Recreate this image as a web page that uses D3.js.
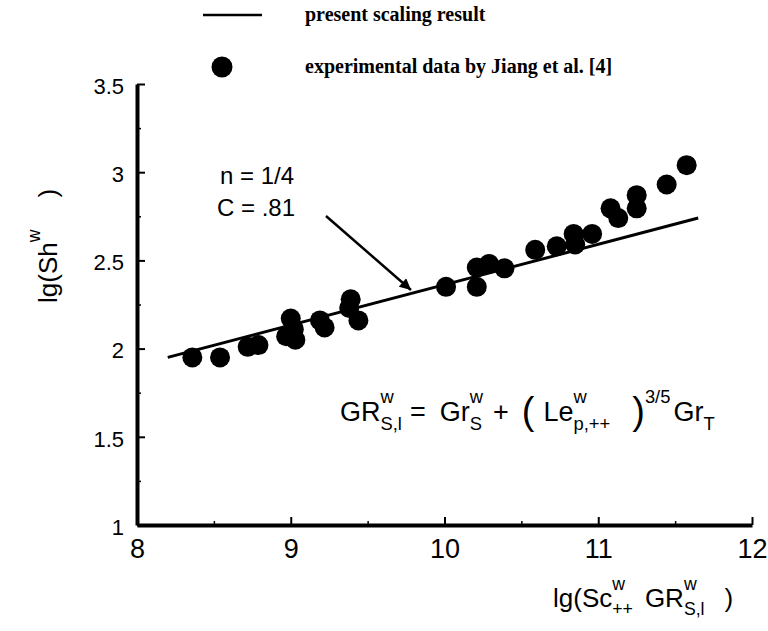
<!DOCTYPE html>
<html>
<head>
<meta charset="utf-8">
<script src="https://cdn.jsdelivr.net/npm/d3@7"></script>
<style>
  html, body { margin: 0; padding: 0; background: #fff; }
  svg { display: block; }
  text { fill: #000; }
</style>
</head>
<body>
<svg id="chart" width="768" height="631"></svg>
<script>
// ---- data ----
const xTicks = [8, 9, 10, 11, 12];
const yTicks = [1, 1.5, 2, 2.5, 3, 3.5];
const xMinorTicks = [8.5, 9.5, 10.5, 11.5];
const yMinorTicks = [1.25, 1.75, 2.25, 2.75, 3.25];

// experimental data (Jiang et al.)
const expX = [8.36, 8.54, 8.72, 8.79, 8.97, 9.00, 9.02, 9.03, 9.19, 9.22, 9.38, 9.39, 9.44,
              10.01, 10.21, 10.21, 10.29, 10.39, 10.59, 10.73, 10.84, 10.85, 10.96,
              11.08, 11.13, 11.25, 11.25, 11.445, 11.575];
const expY = [1.95, 1.95, 2.01, 2.02, 2.07, 2.17, 2.11, 2.05, 2.16, 2.12, 2.23, 2.28, 2.16,
              2.35, 2.35, 2.46, 2.48, 2.455, 2.56, 2.58, 2.65, 2.59, 2.65,
              2.795, 2.74, 2.87, 2.795, 2.93, 3.04];

// present scaling result (line)
const fitX = [8.2, 11.65];
const fitY = [1.95, 2.74];

// ---- drawing ----
const svg = d3.select('#chart');
const x = d3.scaleLinear().domain([8, 12]).range([137, 752]);
const y = d3.scaleLinear().domain([1, 3.5]).range([525, 84]);

const sans = '"Liberation Sans", Arial, sans-serif';
const serif = '"Liberation Serif", "Times New Roman", serif';

// rich text layout helper
function rich(parent, x0, y0, pieces, fs, family) {
  let cx = x0;
  const g = parent.append('g').style('font-family', family);
  pieces.forEach(p => {
    if (p.gap !== undefined) { cx += p.gap; return; }
    if (p.t !== undefined) {
      const size = p.size || fs;
      const t = g.append('text').attr('x', cx).attr('y', y0 + (p.dy || 0))
        .style('font-size', size + 'px').text(p.t);
      cx += t.node().getComputedTextLength();
      return;
    }
    let w = 0;
    const ss = fs * 0.68;
    if (p.sup) {
      const t = g.append('text').attr('x', cx + (p.supDx || 0)).attr('y', y0 - fs * 0.66)
        .style('font-size', ss + 'px').text(p.sup);
      w = Math.max(w, t.node().getComputedTextLength() + (p.supDx || 0));
    }
    if (p.sub) {
      const t = g.append('text').attr('x', cx).attr('y', y0 + fs * 0.32)
        .style('font-size', ss + 'px').text(p.sub);
      w = Math.max(w, t.node().getComputedTextLength());
    }
    cx += w;
  });
  return g;
}

// axes
const xAxis = d3.axisBottom(x).tickValues(xTicks).tickSizeInner(-8).tickSizeOuter(0)
  .tickPadding(14).tickFormat(d3.format('d'));
const gx = svg.append('g').attr('transform', `translate(0,${y(1)})`).call(xAxis);
gx.select('.domain').attr('stroke', '#000').attr('stroke-width', 4);
gx.selectAll('.tick line').attr('stroke', '#000').attr('stroke-width', 2);
gx.selectAll('.tick text').style('font-family', sans).style('font-size', '27px').attr('fill', '#000');

const xMinor = d3.axisBottom(x).tickValues(xMinorTicks).tickSizeInner(-4).tickSizeOuter(0).tickFormat('');
const gxm = svg.append('g').attr('transform', `translate(0,${y(1)})`).call(xMinor);
gxm.select('.domain').remove();
gxm.selectAll('.tick line').attr('stroke', '#000').attr('stroke-width', 1.5);

const yAxis = d3.axisLeft(y).tickValues(yTicks).tickSizeInner(-8).tickSizeOuter(0)
  .tickPadding(13).tickFormat(d => d === Math.round(d) ? d3.format('d')(d) : d3.format('.1f')(d));
const gy = svg.append('g').attr('transform', `translate(${x(8)},0)`).call(yAxis);
gy.select('.domain').attr('stroke', '#000').attr('stroke-width', 4);
gy.selectAll('.tick line').attr('stroke', '#000').attr('stroke-width', 2);
gy.selectAll('.tick text').style('font-family', sans).style('font-size', '22px')
  .attr('fill', '#000').attr('dy', '0.42em');

const yMinor = d3.axisLeft(y).tickValues(yMinorTicks).tickSizeInner(-4).tickSizeOuter(0).tickFormat('');
const gym = svg.append('g').attr('transform', `translate(${x(8)},0)`).call(yMinor);
gym.select('.domain').remove();
gym.selectAll('.tick line').attr('stroke', '#000').attr('stroke-width', 1.5);

// fit line
const line = d3.line().x(d => x(d[0])).y(d => y(d[1]));
svg.append('path').datum(fitX.map((v, i) => [v, fitY[i]]))
  .attr('d', line).attr('fill', 'none').attr('stroke', '#000').attr('stroke-width', 3);

// experimental points
svg.append('g').selectAll('circle').data(expX.map((v, i) => [v, expY[i]]))
  .join('circle').attr('cx', d => x(d[0])).attr('cy', d => y(d[1])).attr('r', 10).attr('fill', '#000');

// legend
svg.append('line').attr('x1', 203).attr('x2', 262).attr('y1', 15).attr('y2', 15)
  .attr('stroke', '#000').attr('stroke-width', 2.5);
svg.append('text').attr('x', 305).attr('y', 21).style('font-family', serif)
  .style('font-size', '20px').style('font-weight', 'bold').text('present scaling result');
svg.append('circle').attr('cx', 222).attr('cy', 67).attr('r', 10.5).attr('fill', '#000');
svg.append('text').attr('x', 305).attr('y', 73).style('font-family', serif)
  .style('font-size', '20px').style('font-weight', 'bold').text('experimental data by Jiang et al. [4]');

// annotation
svg.append('text').attr('x', 220).attr('y', 184).style('font-family', sans)
  .style('font-size', '24px').text('n = 1/4');
svg.append('text').attr('x', 217).attr('y', 216).style('font-family', sans)
  .style('font-size', '24px').text('C = .81');
svg.append('defs').append('marker').attr('id', 'arr').attr('viewBox', '0 0 10 10')
  .attr('refX', 10).attr('refY', 5).attr('markerWidth', 8).attr('markerHeight', 4.5)
  .attr('orient', 'auto').attr('markerUnits', 'strokeWidth')
  .append('path').attr('d', 'M0,0 L10,5 L0,10 z').attr('fill', '#000');
svg.append('line').attr('x1', 326).attr('y1', 216).attr('x2', 411).attr('y2', 290)
  .attr('stroke', '#000').attr('stroke-width', 2.5).attr('marker-end', 'url(#arr)');

// equation
rich(svg, 340, 421, [
  {t: 'GR'}, {sup: 'w', sub: 'S,l'}, {gap: 8}, {t: '='}, {gap: 14},
  {t: 'Gr'}, {sup: 'w', sub: 'S'}, {gap: 10}, {t: '+'}, {gap: 13},
  {t: '(', size: 38, dy: 3}, {gap: 9}, {t: 'Le'}, {sup: 'w', sub: 'p,++'}, {gap: 22},
  {t: ')', size: 38, dy: 3}, {sup: '3/5'}, {gap: 3}, {t: 'Gr'}, {sub: 'T'}
], 27, sans);

// x axis title
rich(svg, 553, 607, [
  {t: 'lg(Sc'}, {sup: 'w', sub: '++'}, {gap: 12}, {t: 'GR'}, {sup: 'w', sub: 'S,l'}, {gap: 20}, {t: ')'}
], 26, sans);

// y axis title (rotated)
const yt = svg.append('g').attr('transform', 'translate(57,303) rotate(-90)');
rich(yt, 0, 0, [
  {t: 'lg(Sh'}, {sup: 'w'}, {gap: 32}, {t: ')'}
], 26, sans);
</script>
</body>
</html>
